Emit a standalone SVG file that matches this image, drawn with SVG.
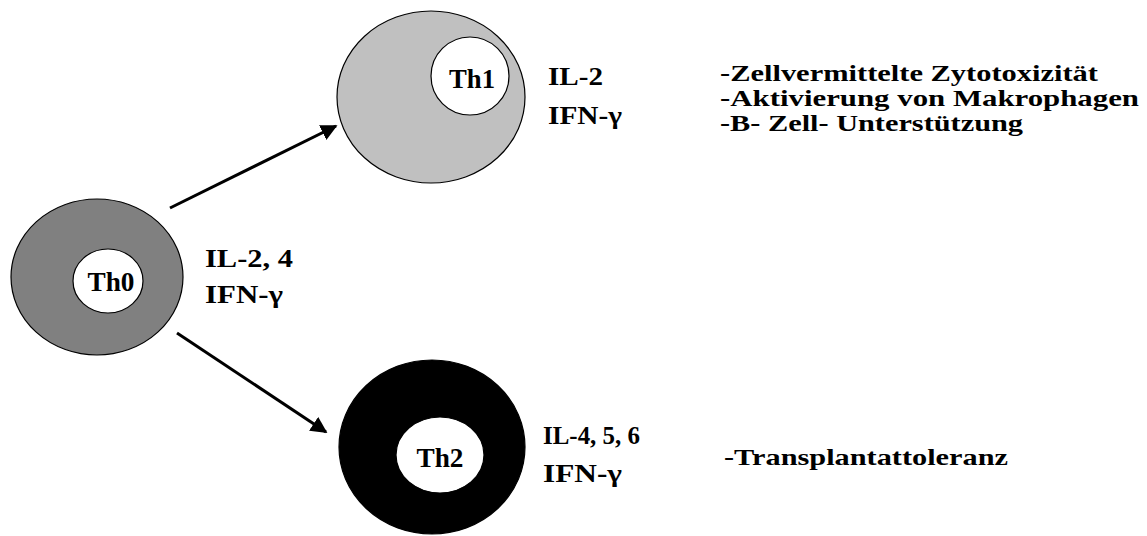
<svg xmlns="http://www.w3.org/2000/svg" width="1147" height="536" viewBox="0 0 1147 536">
<style>
.t{font-family:"Liberation Serif","Times New Roman",serif;font-weight:bold;fill:#000}
.lab{font-size:25px}
.fn{font-size:24px}
.th{font-size:28px}
.ring{stroke:#000;stroke-width:1.2}
.conn{stroke:#000;stroke-width:3;fill:none}
</style>
<defs>
<marker id="ah" viewBox="0 0 10 10" refX="9" refY="5" markerWidth="5.5" markerHeight="5.5" markerUnits="strokeWidth" orient="auto">
<path d="M0,0 L10,5 L0,10 z" fill="#000"/>
</marker>
</defs>
<rect width="1147" height="536" fill="#fff"/>
<g id="connectors">
<line class="conn" x1="170" y1="208" x2="336" y2="126" marker-end="url(#ah)"/>
<line class="conn" x1="177" y1="333" x2="326" y2="432" marker-end="url(#ah)"/>
</g>
<g id="th0">
<ellipse class="ring" cx="97" cy="277" rx="86" ry="78" fill="#808080"/>
<ellipse class="ring" cx="108" cy="281" rx="35" ry="32" fill="#fff"/>
<text class="t th" x="111" y="291" text-anchor="middle" textLength="47" lengthAdjust="spacingAndGlyphs">Th0</text>
<text class="t lab" x="205" y="267" textLength="88" lengthAdjust="spacingAndGlyphs">IL-2, 4</text>
<text class="t lab" x="205" y="303" textLength="78" lengthAdjust="spacingAndGlyphs">IFN-γ</text>
</g>
<g id="th1">
<ellipse class="ring" cx="431" cy="97" rx="94" ry="86" fill="#c0c0c0"/>
<ellipse class="ring" cx="470" cy="76" rx="39" ry="39" fill="#fff"/>
<text class="t th" x="472" y="88" text-anchor="middle" textLength="46" lengthAdjust="spacingAndGlyphs">Th1</text>
<text class="t lab" x="548" y="85" textLength="55" lengthAdjust="spacingAndGlyphs">IL-2</text>
<text class="t lab" x="548" y="124" textLength="74" lengthAdjust="spacingAndGlyphs">IFN-γ</text>
</g>
<g id="th2">
<ellipse class="ring" cx="432" cy="447" rx="93" ry="87" fill="#000"/>
<ellipse class="ring" cx="440" cy="455" rx="44" ry="38" fill="#fff"/>
<text class="t th" x="440" y="467" text-anchor="middle" textLength="47" lengthAdjust="spacingAndGlyphs">Th2</text>
<text class="t lab" x="543" y="444" textLength="97" lengthAdjust="spacingAndGlyphs">IL-4, 5, 6</text>
<text class="t lab" x="543" y="482" textLength="79" lengthAdjust="spacingAndGlyphs">IFN-γ</text>
</g>
<g id="th1-functions">
<text class="t fn" x="720" y="81" textLength="378" lengthAdjust="spacingAndGlyphs">-Zellvermittelte Zytotoxizität</text>
<text class="t fn" x="720" y="106" textLength="419" lengthAdjust="spacingAndGlyphs">-Aktivierung von Makrophagen</text>
<text class="t fn" x="720" y="131" textLength="303" lengthAdjust="spacingAndGlyphs">-B- Zell- Unterstützung</text>
</g>
<g id="th2-functions">
<text class="t fn" x="724" y="465" textLength="284" lengthAdjust="spacingAndGlyphs">-Transplantattoleranz</text>
</g>
</svg>
